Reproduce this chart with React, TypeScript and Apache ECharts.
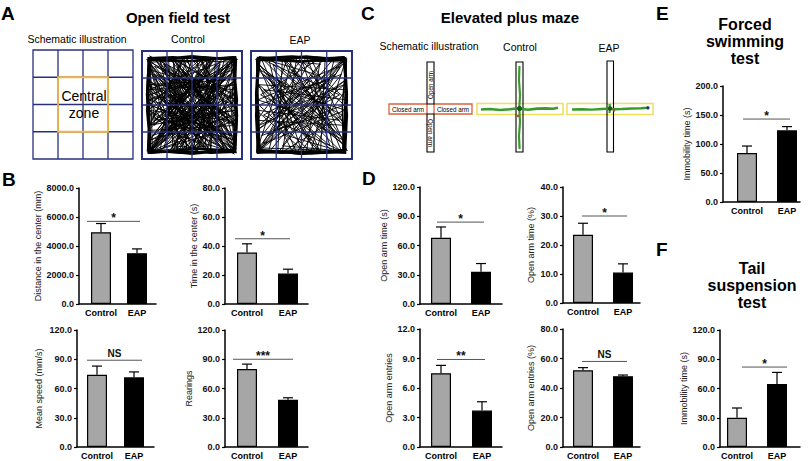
import React, { useEffect, useRef } from "react";
import * as echarts from "echarts";

const FONT = '"Liberation Sans", Arial, Helvetica, sans-serif';
const GRAY = "#a6a6a6";
const BLACK = "#000000";
const NAVY = "#28307c";
const ORANGE = "#f3b649";

// ---------- DATA ----------
const CATEGORIES = ["Control", "EAP"];

// Panel B (open field test)
const distanceCenterMean = [4950, 3500];
const distanceCenterSem = [600, 300];
const timeCenterMean = [35.5, 21];
const timeCenterSem = [6, 3];
const meanSpeedMean = [74, 71.5];
const meanSpeedSem = [9, 5.5];
const rearingsMean = [80, 48.5];
const rearingsSem = [5, 2];

// Panel D (elevated plus maze)
const openArmTimeMean = [68, 33];
const openArmTimeSem = [11, 8.5];
const openArmTimePctMean = [23.5, 10.5];
const openArmTimePctSem = [4, 3];
const openArmEntriesMean = [7.5, 3.7];
const openArmEntriesSem = [0.8, 0.9];
const openArmEntriesPctMean = [52, 48];
const openArmEntriesPctSem = [1.8, 0.8];

// Panel E (forced swimming) and F (tail suspension)
const fstImmobilityMean = [84.5, 123.5];
const fstImmobilitySem = [12, 6.5];
const tstImmobilityMean = [30, 64.5];
const tstImmobilitySem = [10, 12];

// Axis maxima and names, significance
const AXIS_NAMES = [
  "Distance in the center (mm)",
  "Time in the center (s)",
  "Mean speed (mm/s)",
  "Rearings",
  "Open arm time (s)",
  "Open arm time (%)",
  "Open arm entries",
  "Open arm entries (%)",
  "Immobility time (s)",
  "Immobility time (s)",
];
const AXIS_MAX = [8000, 80, 120, 120, 120, 40, 12, 80, 200, 120];
const SIG_LEVEL = [5700, 45, 89, 90, 84, 30, 8.9, 58, 143, 82];
const SIG_TEXT = ["*", "*", "NS", "***", "*", "*", "**", "NS", "*", "*"];

const MEANS = [
  distanceCenterMean, timeCenterMean, meanSpeedMean, rearingsMean,
  openArmTimeMean, openArmTimePctMean, openArmEntriesMean, openArmEntriesPctMean,
  fstImmobilityMean, tstImmobilityMean,
];
const SEMS = [
  distanceCenterSem, timeCenterSem, meanSpeedSem, rearingsSem,
  openArmTimeSem, openArmTimePctSem, openArmEntriesSem, openArmEntriesPctSem,
  fstImmobilitySem, tstImmobilitySem,
];

// ---------- LAYOUT (pixels) ----------
const LAYOUT = [
  { axisX: 79, right: 156, top: 188, bottom: 304, c0: 101, c1: 137, s0: 87, s1: 140, nameGap: 36 },
  { axisX: 225, right: 308, top: 188, bottom: 304, c0: 247, c1: 288, s0: 235, s1: 290, nameGap: 25 },
  { axisX: 77, right: 154, top: 330, bottom: 447, c0: 97, c1: 134, s0: 87, s1: 142, nameGap: 34 },
  { axisX: 225, right: 308, top: 330, bottom: 447, c0: 247, c1: 288, s0: 233, s1: 293, nameGap: 25 },
  { axisX: 420, right: 502, top: 187, bottom: 304, c0: 441, c1: 481, s0: 437, s1: 484, nameGap: 32 },
  { axisX: 563, right: 640, top: 187, bottom: 303, c0: 583, c1: 623, s0: 582, s1: 627, nameGap: 28 },
  { axisX: 420, right: 502, top: 329, bottom: 447, c0: 441, c1: 482, s0: 437, s1: 485, nameGap: 27 },
  { axisX: 563, right: 640, top: 329, bottom: 447, c0: 583, c1: 623, s0: 582, s1: 627, nameGap: 28 },
  { axisX: 723, right: 800, top: 86, bottom: 202, c0: 747, c1: 787, s0: 743, s1: 790, nameGap: 32 },
  { axisX: 720, right: 800, top: 330, bottom: 447, c0: 737, c1: 777, s0: 742, s1: 787, nameGap: 23 },
];

// Hand-drawn open-field trajectory (normalised within the arena)
const TRACK = [
  [0.05, 0.05], [0.95, 0.08], [0.3, 0.9], [0.92, 0.95], [0.1, 0.6], [0.85, 0.2], [0.05, 0.95],
  [0.6, 0.05], [0.95, 0.7], [0.2, 0.1], [0.5, 0.95], [0.97, 0.35], [0.03, 0.3], [0.7, 0.97],
  [0.75, 0.03], [0.08, 0.8], [0.95, 0.5], [0.4, 0.04], [0.15, 0.97], [0.9, 0.12], [0.04, 0.45],
  [0.55, 0.6], [0.96, 0.9], [0.25, 0.35], [0.65, 0.96], [0.97, 0.05], [0.35, 0.5], [0.02, 0.05],
  [0.45, 0.97], [0.8, 0.4], [0.05, 0.7], [0.6, 0.25], [0.93, 0.97], [0.1, 0.2], [0.85, 0.8],
  [0.3, 0.03], [0.5, 0.45], [0.03, 0.97], [0.97, 0.25], [0.2, 0.75], [0.75, 0.6], [0.4, 0.15],
  [0.95, 0.85], [0.07, 0.4], [0.7, 0.04], [0.55, 0.97], [0.02, 0.55], [0.9, 0.65], [0.15, 0.03],
  [0.35, 0.8], [0.97, 0.97],
];
const WALL = [
  [0.03, 0.04], [0.3, 0.05], [0.6, 0.03], [0.97, 0.05], [0.96, 0.3], [0.98, 0.6], [0.96, 0.96],
  [0.7, 0.97], [0.4, 0.95], [0.04, 0.97], [0.05, 0.7], [0.02, 0.4], [0.04, 0.06], [0.5, 0.07],
  [0.94, 0.03], [0.98, 0.45], [0.94, 0.94], [0.5, 0.98], [0.06, 0.94], [0.03, 0.2],
];

type Pt = number[];
function trackGraphic(box: number[], pts: Pt[], tf: (p: Pt) => Pt, width: number) {
  const [x0, y0, x1, y1] = box;
  const w = x1 - x0, h = y1 - y0;
  return {
    type: "polyline",
    shape: { points: pts.map((p) => { const q = tf(p); return [x0 + 3 + q[0] * (w - 6), y0 + 3 + q[1] * (h - 6)]; }) },
    style: { stroke: "#000", lineWidth: width, fill: null },
  };
}

function arenaGrid(box: number[], width: number) {
  const [x0, y0, x1, y1] = box;
  const out: any[] = [];
  for (let k = 1; k < 4; k++) {
    const x = x0 + ((x1 - x0) * k) / 4;
    const y = y0 + ((y1 - y0) * k) / 4;
    out.push({ type: "line", shape: { x1: x, y1: y0, x2: x, y2: y1 }, style: { stroke: NAVY, lineWidth: 1.3 } });
    out.push({ type: "line", shape: { x1: x0, y1: y, x2: x1, y2: y }, style: { stroke: NAVY, lineWidth: 1.3 } });
  }
  out.push({ type: "rect", shape: { x: x0, y: y0, width: x1 - x0, height: y1 - y0 }, style: { stroke: NAVY, lineWidth: width, fill: null } });
  return out;
}

function txt(text: string, x: number, y: number, size: number, opts: any = {}) {
  return {
    type: "text",
    x, y,
    rotation: opts.rotation || 0,
    style: {
      text, x: 0, y: 0,
      fill: opts.fill || "#000",
      font: `${opts.bold ? "bold " : ""}${size}px ${FONT}`,
      textAlign: opts.align || "center",
      textVerticalAlign: opts.valign || "middle",
      lineHeight: opts.lineHeight,
    },
  };
}

function buildGraphics() {
  const g: any[] = [];
  // Panel letters
  g.push(txt("A", 1, 4, 19, { bold: true, align: "left", valign: "top" }));
  g.push(txt("B", 2, 170, 19, { bold: true, align: "left", valign: "top" }));
  g.push(txt("C", 361, 4, 19, { bold: true, align: "left", valign: "top" }));
  g.push(txt("D", 362, 169, 19, { bold: true, align: "left", valign: "top" }));
  g.push(txt("E", 656, 4, 19, { bold: true, align: "left", valign: "top" }));
  g.push(txt("F", 656, 240, 19, { bold: true, align: "left", valign: "top" }));

  // Titles
  g.push(txt("Open field test", 178, 17, 15, { bold: true }));
  g.push(txt("Elevated plus maze", 510, 17, 15, { bold: true }));
  g.push(txt("Forced\nswimming\ntest", 745, 41, 16, { bold: true, lineHeight: 17 }));
  g.push(txt("Tail\nsuspension\ntest", 752, 285, 16, { bold: true, lineHeight: 17 }));

  // Panel A
  g.push(txt("Schematic illustration", 77, 39, 10.5));
  g.push(txt("Control", 188, 39, 10.5));
  g.push(txt("EAP", 300, 40, 10.5));
  const schem = [33, 50, 133, 159];
  g.push(...arenaGrid(schem, 1.3));
  g.push({ type: "rect", shape: { x: 58, y: 77.25, width: 50, height: 54.5 }, style: { stroke: ORANGE, lineWidth: 1.8, fill: null } });
  g.push(txt("Central\nzone", 84, 104, 14, { lineHeight: 17 }));

  const ctrlBox = [142, 51, 242, 159];
  const eapBox = [251, 51, 352, 159];
  const tfs: ((p: Pt) => Pt)[] = [
    (p) => [p[0], p[1]],
    (p) => [1 - p[0], p[1]],
    (p) => [p[0], 1 - p[1]],
    (p) => [p[1], p[0]],
    (p) => [1 - p[1], 1 - p[0]],
    (p) => [1 - p[0], 1 - p[1]],
  ];
  [tfs[0], tfs[1], tfs[3], tfs[4]].forEach((tf) => g.push(trackGraphic(ctrlBox, TRACK, tf, 0.9)));
  g.push(trackGraphic(ctrlBox, WALL, tfs[0], 2));
  g.push(trackGraphic(ctrlBox, WALL, tfs[5], 2));
  [tfs[0], tfs[5]].forEach((tf) => g.push(trackGraphic(eapBox, TRACK, tf, 0.9)));
  g.push(trackGraphic(eapBox, WALL, tfs[0], 2));
  g.push(trackGraphic(eapBox, WALL, tfs[1], 2));
  g.push(trackGraphic(eapBox, WALL, tfs[4], 1.5));
  g.push(...arenaGrid(ctrlBox, 2));
  g.push(...arenaGrid(eapBox, 2));

  // Panel C
  g.push(txt("Schematic illustration", 429, 46, 10.5));
  g.push(txt("Control", 520, 47, 10.5));
  g.push(txt("EAP", 609, 48, 10.5));
  const RED = "#d9623c";
  // schematic plus maze
  g.push({ type: "rect", shape: { x: 389, y: 104, width: 38, height: 10 }, style: { stroke: RED, lineWidth: 1.3, fill: "#fff" } });
  g.push({ type: "rect", shape: { x: 434, y: 104, width: 38, height: 10 }, style: { stroke: RED, lineWidth: 1.3, fill: "#fff" } });
  g.push({ type: "rect", shape: { x: 427, y: 62, width: 7, height: 42 }, style: { stroke: "#000", lineWidth: 1.1, fill: "#fff" } });
  g.push({ type: "rect", shape: { x: 427, y: 114, width: 7, height: 38 }, style: { stroke: "#000", lineWidth: 1.1, fill: "#fff" } });
  g.push(txt("Closed arm", 408, 109.3, 6.3));
  g.push(txt("Closed arm", 453, 109.3, 6.3));
  g.push(txt("Open arm", 430.7, 85, 6.3, { rotation: Math.PI / 2 }));
  g.push(txt("Open arm", 430.7, 133, 6.3, { rotation: -Math.PI / 2 }));

  const YEL = "#efe05c";
  const GREEN = "#3b9a2c";
  // Control maze
  g.push({ type: "rect", shape: { x: 477, y: 103.5, width: 86, height: 11 }, style: { stroke: YEL, lineWidth: 1.5, fill: "#fff" } });
  g.push({ type: "rect", shape: { x: 516, y: 62, width: 7, height: 90 }, style: { stroke: "#000", lineWidth: 1.1, fill: null } });
  g.push({ type: "polyline", shape: { points: [[519.5, 66], [519, 80], [520, 95], [519.3, 108], [520, 122], [519, 136], [519.6, 149]] }, style: { stroke: GREEN, lineWidth: 2.2, fill: null } });
  g.push({ type: "polyline", shape: { points: [[481, 109.5], [490, 109], [500, 110], [510, 109.2], [516, 108.5], [522, 109], [528, 109.8], [537, 108.6], [546, 108.4], [553, 108.8], [558, 107.8]] }, style: { stroke: GREEN, lineWidth: 2.6, fill: null } });
  g.push({ type: "circle", shape: { cx: 519.5, cy: 108.5, r: 2.6 }, style: { fill: "#1f5a1a" } });
  g.push({ type: "circle", shape: { cx: 518, cy: 116, r: 1.2 }, style: { fill: "#c0392b" } });
  // EAP maze
  g.push({ type: "rect", shape: { x: 567, y: 103.5, width: 86, height: 11 }, style: { stroke: YEL, lineWidth: 1.5, fill: "#fff" } });
  g.push({ type: "rect", shape: { x: 607, y: 61, width: 6.5, height: 91 }, style: { stroke: "#000", lineWidth: 1.1, fill: null } });
  g.push({ type: "polyline", shape: { points: [[572, 109.5], [582, 109.2], [592, 109.6], [602, 109], [608, 108.6], [614, 109.2], [622, 109], [632, 108.5], [641, 108.2], [648, 107.8]] }, style: { stroke: GREEN, lineWidth: 2.4, fill: null } });
  g.push({ type: "polyline", shape: { points: [[609.5, 104], [610, 108], [609.5, 113]] }, style: { stroke: GREEN, lineWidth: 2.2, fill: null } });
  g.push({ type: "circle", shape: { cx: 610, cy: 108.5, r: 2.3 }, style: { fill: "#1f5a1a" } });
  g.push({ type: "circle", shape: { cx: 614, cy: 110.5, r: 1.2 }, style: { fill: "#c0392b" } });
  g.push({ type: "circle", shape: { cx: 648, cy: 107.8, r: 1.6 }, style: { fill: "#1a2a8a" } });

  return g;
}

function buildOption() {
  const grid: any[] = [];
  const xAxis: any[] = [];
  const yAxis: any[] = [];
  const series: any[] = [];
  MEANS.forEach((means, i) => {
    const L = LAYOUT[i];
    const d = L.c1 - L.c0;
    const sems = SEMS[i];
    const max = AXIS_MAX[i];
    grid.push({ left: L.axisX, top: L.top, width: L.right - L.axisX, height: L.bottom - L.top, containLabel: false });
    xAxis.push({
      gridIndex: i,
      type: "value",
      min: -(L.c0 - L.axisX) / d,
      max: 1 + (L.right - L.c1) / d,
      axisLine: { show: true, onZero: false, lineStyle: { color: "#000", width: 1.5 } },
      axisTick: { show: false },
      splitLine: { show: false },
      axisLabel: {
        customValues: [0, 1],
        formatter: (v: number) => (v === 0 || v === 1 ? CATEGORIES[v] : ""),
        color: "#000",
        fontSize: 9,
        fontWeight: "bold",
        fontFamily: FONT,
        margin: 4,
      },
    });
    yAxis.push({
      gridIndex: i,
      type: "value",
      min: 0,
      max,
      interval: max / 4,
      name: AXIS_NAMES[i],
      nameLocation: "middle",
      nameGap: L.nameGap,
      nameTextStyle: { fontSize: 9, fontFamily: FONT, color: "#222" },
      axisLine: { show: true, onZero: false, lineStyle: { color: "#000", width: 1.5 } },
      axisTick: { show: true, inside: false, length: 3, lineStyle: { color: "#000", width: 1.2 } },
      axisLabel: {
        formatter: (v: number) => v.toFixed(1),
        fontSize: 9,
        fontWeight: "bold",
        fontFamily: FONT,
        color: "#111",
        margin: 5,
      },
      splitLine: { show: false },
    });
    series.push({
      type: "bar",
      xAxisIndex: i,
      yAxisIndex: i,
      barWidth: 20,
      data: means.map((m, j) => ({
        value: [j, m],
        itemStyle: { color: j === 0 ? GRAY : BLACK, borderColor: "#000", borderWidth: 1.2 },
      })),
      z: 2,
    });
    series.push({
      type: "custom",
      xAxisIndex: i,
      yAxisIndex: i,
      z: 3,
      data: means.map((m, j) => [j, m, m + sems[j]]),
      renderItem: (_p: any, api: any) => {
        const x = api.value(0);
        const pb = api.coord([x, api.value(1)]);
        const pt = api.coord([x, api.value(2)]);
        return {
          type: "group",
          children: [
            { type: "line", shape: { x1: pb[0], y1: pb[1], x2: pt[0], y2: pt[1] }, style: { stroke: "#000", lineWidth: 1.2 } },
            { type: "line", shape: { x1: pt[0] - 5, y1: pt[1], x2: pt[0] + 5, y2: pt[1] }, style: { stroke: "#000", lineWidth: 1.2 } },
          ],
        };
      },
    });
    const label = SIG_TEXT[i];
    series.push({
      type: "custom",
      xAxisIndex: i,
      yAxisIndex: i,
      z: 3,
      data: [[(L.s0 - L.c0) / d, (L.s1 - L.c0) / d, SIG_LEVEL[i]]],
      renderItem: (_p: any, api: any) => {
        const a = api.coord([api.value(0), api.value(2)]);
        const b = api.coord([api.value(1), api.value(2)]);
        const isStar = label.indexOf("*") >= 0;
        return {
          type: "group",
          children: [
            { type: "line", shape: { x1: a[0], y1: a[1], x2: b[0], y2: b[1] }, style: { stroke: "#555", lineWidth: 1 } },
            {
              type: "text",
              style: {
                text: label,
                x: (a[0] + b[0]) / 2,
                y: isStar ? a[1] - 3 : a[1] - 7,
                textAlign: "center",
                textVerticalAlign: "middle",
                font: `bold ${isStar ? 12 : 10}px ${FONT}`,
                fill: "#111",
              },
            },
          ],
        };
      },
    });
  });
  return {
    animation: false,
    backgroundColor: "#fff",
    grid,
    xAxis,
    yAxis,
    series,
    graphic: buildGraphics(),
  };
}

export default function App() {
  const ref = useRef<HTMLDivElement>(null);
  useEffect(() => {
    if (!ref.current) return;
    const chart = echarts.init(ref.current, null, { renderer: "svg" });
    chart.setOption(buildOption());
    return () => chart.dispose();
  }, []);
  return <div ref={ref} style={{ position: "absolute", left: 0, top: 0, width: 810, height: 461 }} />;
}
